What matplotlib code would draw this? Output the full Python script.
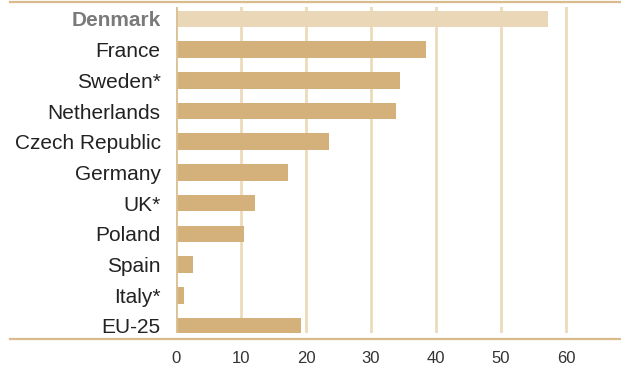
import matplotlib
matplotlib.use("Agg")
import matplotlib.pyplot as plt
from matplotlib.lines import Line2D

categories = ["Denmark", "France", "Sweden*", "Netherlands", "Czech Republic",
              "Germany", "UK*", "Poland", "Spain", "Italy*", "EU-25"]
values = [57.2, 38.4, 34.5, 33.8, 23.6, 17.2, 12.1, 10.4, 2.6, 1.3, 19.3]
xticks = [0, 10, 20, 30, 40, 50, 60]

W, H = 621, 367
fig = plt.figure(figsize=(W / 100, H / 100), dpi=100)
plt.rcParams['font.family'] = ['Liberation Sans', 'DejaVu Sans']

left, right, top, bottom = 176, 621, 7, 333
ax = fig.add_axes([left / W, (H - bottom) / H, (right - left) / W, (bottom - top) / H])

bar_col = "#d4b07a"
hl_col = "#e9d7b8"
colors = [hl_col] + [bar_col] * (len(categories) - 1)
ypos = list(range(len(categories)))
ax.barh(ypos, values, height=0.54, color=colors, zorder=3)

ax.set_xlim(0, (right - left) / 6.5)
ax.set_ylim(len(categories) - 1 + 0.23, -0.39)
for s in ax.spines.values():
    s.set_visible(False)
ax.set_xticks(xticks)
ax.set_xticklabels([str(t) for t in xticks], fontsize=12, color="#333333")
ax.tick_params(axis="x", length=0, pad=13)
ax.set_yticks(ypos)
ax.set_yticklabels(categories, fontsize=15, color="#222222")
ax.tick_params(axis="y", length=0, pad=11)
lbl = ax.get_yticklabels()[0]
lbl.set_fontweight("bold")
lbl.set_color("#7a7a7a")

for t in xticks[1:]:
    ax.axvline(t, color="#ecdabb", lw=2, zorder=1)
ax.axvline(0, color="#dcc096", lw=2, zorder=4)

# frame lines
fig.add_artist(Line2D([10 / W, 1], [(H - 1.5) / H] * 2, color="#d9bb8c", lw=1.6, transform=fig.transFigure))
fig.add_artist(Line2D([10 / W, 1], [(H - 339) / H] * 2, color="#d9bb8c", lw=1.6, transform=fig.transFigure))

fig.savefig("out.png", dpi=100)
